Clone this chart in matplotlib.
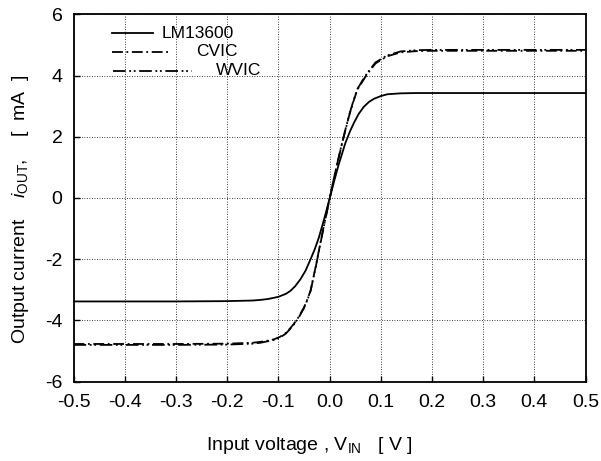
import matplotlib
matplotlib.use('Agg')
import matplotlib.pyplot as plt

plt.rcParams['font.family'] = ['Liberation Sans', 'DejaVu Sans']
plt.rcParams['mathtext.fontset'] = 'custom'
plt.rcParams['mathtext.rm'] = 'Liberation Sans'
plt.rcParams['mathtext.it'] = 'Liberation Sans:italic'

# values
lm_v = [-0.5, -0.3, -0.2, -0.15, -0.135, -0.12, -0.1, -0.085, -0.076, -0.067, -0.057,
        -0.047, -0.037, -0.029, -0.021, -0.011, 0.0, 0.009, 0.018, 0.031, 0.04, 0.0475,
        0.057, 0.067, 0.077, 0.0866, 0.1, 0.113, 0.139, 0.17, 0.2, 0.3, 0.5]
lm_i = [-3.38, -3.38, -3.37, -3.35, -3.33, -3.30, -3.23, -3.13, -3.03, -2.88, -2.66,
        -2.38, -2.00, -1.68, -1.30, -0.72, -0.03, 0.55, 1.10, 1.80, 2.18, 2.45,
        2.75, 2.98, 3.14, 3.24, 3.33, 3.39, 3.42, 3.43, 3.43, 3.43, 3.43]

cvic_v = [-0.5, -0.3, -0.2, -0.15, -0.135, -0.12, -0.109, -0.097, -0.086, -0.078, -0.07,
          -0.06, -0.05, -0.043, -0.037, -0.027, -0.014, 0.0, 0.01, 0.0215, 0.03, 0.0378,
          0.046, 0.054, 0.064, 0.0736, 0.0898, 0.1126, 0.139, 0.17, 0.2, 0.3, 0.5]
cvic_i = [-4.77, -4.77, -4.76, -4.73, -4.70, -4.66, -4.62, -4.54, -4.42, -4.28, -4.12,
          -3.88, -3.58, -3.30, -3.02, -2.24, -1.15, -0.03, 0.75, 1.57, 2.15, 2.66,
          3.12, 3.53, 3.80, 4.05, 4.40, 4.63, 4.76, 4.80, 4.81, 4.81, 4.81]

wvic_v = [-0.5, -0.3, -0.2, -0.15, -0.135, -0.12, -0.109, -0.097, -0.086, -0.078, -0.07,
          -0.06, -0.05, -0.043, -0.037, -0.027, -0.014, 0.0, 0.01, 0.0215, 0.03, 0.0378,
          0.046, 0.054, 0.064, 0.0736, 0.0898, 0.1126, 0.139, 0.17, 0.2, 0.3, 0.5]
wvic_i = [-4.80, -4.80, -4.79, -4.76, -4.73, -4.68, -4.64, -4.56, -4.44, -4.30, -4.14,
          -3.90, -3.60, -3.32, -3.04, -2.26, -1.17, -0.04, 0.76, 1.59, 2.17, 2.68,
          3.14, 3.55, 3.83, 4.08, 4.43, 4.66, 4.79, 4.83, 4.84, 4.84, 4.84]

x_ticks = [-0.5, -0.4, -0.3, -0.2, -0.1, 0.0, 0.1, 0.2, 0.3, 0.4, 0.5]
y_ticks = [-6, -4, -2, 0, 2, 4, 6]

cvic_dash = (6, 2, 1, 2)
wvic_dash = (7, 2, 1, 1.5, 1, 2)

fig = plt.figure(figsize=(6.01, 4.61), dpi=100)
ax = fig.add_axes([0.1223, 0.1722, 0.852, 0.7966])

ax.plot(lm_v, lm_i, color='black', lw=1.3)
ax.plot(cvic_v, cvic_i, color='black', lw=1.3, dashes=cvic_dash)
ax.plot(wvic_v, wvic_i, color='black', lw=1.3, dashes=wvic_dash)

ax.set_xlim(-0.5, 0.5)
ax.set_ylim(-6, 6)
ax.set_xticks(x_ticks)
ax.set_xticklabels(['%.1f' % t for t in x_ticks])
ax.set_yticks(y_ticks)
ax.set_yticklabels(['%d' % t for t in y_ticks])
ax.tick_params(direction='in', length=4, width=1, labelsize=14)
ax.tick_params(axis='x', pad=9)
ax.tick_params(axis='y', pad=8)
ax.grid(True, color='black', linestyle=(0, (1, 2)), lw=0.6)
for s in ax.spines.values():
    s.set_linewidth(1.3)

# staggered legend
ax.plot([0.075, 0.155], [0.949, 0.949], color='black', lw=1.3, transform=ax.transAxes)
ax.text(0.173, 0.949, 'LM13600', transform=ax.transAxes, va='center', fontsize=12.5)
ax.plot([0.075, 0.19], [0.898, 0.898], color='black', lw=1.3, dashes=cvic_dash,
        transform=ax.transAxes)
ax.text(0.239, 0.898, 'CVIC', transform=ax.transAxes, va='center', fontsize=12.5)
ax.plot([0.077, 0.231], [0.846, 0.846], color='black', lw=1.3, dashes=wvic_dash,
        transform=ax.transAxes)
ax.text(0.278, 0.846, 'WVIC', transform=ax.transAxes, va='center', fontsize=12.5)

fig.text(0.514, 0.024, r'Input voltage , V$_{\mathrm{IN}}$   [ V ]', ha='center',
         va='baseline', fontsize=14)
fig.text(0.034, 0.545, r'Output current    $i_{\mathrm{OUT}}$,    [  mA  ]', ha='center',
         va='center', rotation=90, fontsize=14)

fig.savefig('out.png', dpi=100)
